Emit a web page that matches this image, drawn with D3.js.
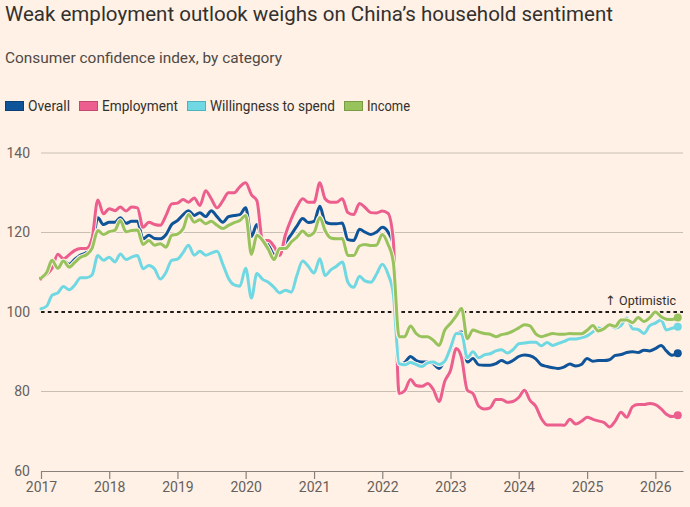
<!DOCTYPE html>
<html>
<head>
<meta charset="utf-8">
<script src="https://cdn.jsdelivr.net/npm/d3@7"></script>
<style>
  html, body { margin: 0; background: #fff1e5; }
  svg { display: block; font-family: Roboto, "Open Sans", sans-serif; }
</style>
</head>
<body>
<div id="chart"></div>
<script>
// monthly index values, Jan 2017 to May 2026
const overall = [
  108.6, 110, 112.5, 111.3, 113, 112, 113.3, 114.3, 115, 116.5,
  123.7, 122, 122.6, 122.6, 123.7, 122.3, 122.8, 122.8, 118.4, 119.3,
  118.5, 118.4, 119.5, 122, 123, 124.5, 125.5, 124.3, 125, 124,
  125.5, 124, 122.6, 124, 124.3, 124.5, 126.2, 119, 122, 118,
  117, 114.5, 115, 117.5, 119.5, 121.6, 123.5, 122.5, 122.8, 126.6,
  122.7, 122.2, 122.2, 122.4, 118.2, 118, 120.8, 120.1, 119.5, 120.1,
  121.3, 120.1, 117, 86.8, 87.3, 88.8, 87.8, 87.4, 87.4, 87,
  85.8, 87.8, 90.4, 94.6, 95, 87.4, 88.3, 86.7, 86.6, 86.6,
  87, 87.8, 87.2, 87.8, 88.8, 89.2, 89, 88.2, 86.7, 86.3,
  86, 85.8, 86.2, 86.9, 86.4, 86.8, 88.3, 87.6, 87.8, 87.8,
  88, 89.1, 89.3, 89.8, 90, 89.8, 90.4, 90.2, 90.8, 91.6,
  90.2, 89.1, 89.6
];
const employment = [
  108.3, 109.5, 111, 114.5, 113.4, 114.4, 115.5, 116, 116, 118.5,
  128.2, 124.7, 126, 125.5, 126.4, 125.4, 126.4, 126.2, 121.3, 122.6,
  122, 121.8, 124.3, 127.2, 127.4, 128.3, 127.6, 128.7, 126.8, 130.5,
  128.5, 126.2, 128, 130, 130, 131.5, 132.5, 129.5, 128, 118,
  118, 116.5, 114.2, 119.5, 123.4, 126.4, 128.5, 127.6, 127.6, 132.5,
  128.5, 127.6, 127.6, 128.5, 125, 124.5, 127.3, 126.3, 125, 124.9,
  125.4, 124.8, 118, 79.5, 80.2, 83, 81.5, 81.3, 82, 80.5,
  77.5, 82.5, 85.3, 90.8, 88.5, 80.3, 79.5, 76.3, 75.6, 75.9,
  78, 78, 77.3, 77.5, 78.5, 80.3, 77.8, 76.3, 73.2, 71.6,
  71.6, 71.6, 71.5, 73, 71.8, 72.5, 73.5, 73, 72.6, 72.2,
  71.1, 72.6, 74.8, 73.5, 76.2, 76.7, 76.7, 77, 76.7, 75.6,
  74.3, 73.7, 74
];
const spending = [
  100.8, 101.5, 104.2, 104.8, 106.4, 105.6, 106.8, 108.6, 108.6, 109.3,
  114.2, 113, 113.8, 112.6, 114.6, 113.2, 113.8, 114.2, 110.9, 111.7,
  110.8, 108.3, 110, 113, 113.3, 115, 116.8, 114.3, 115.3, 114.3,
  114.8, 115.3, 112, 108.5, 106.8, 106.5, 111, 103.5, 109.7, 108.2,
  107.5, 106.2, 104.8, 105.5, 105, 109.2, 112.8, 111.5, 109.8, 113.4,
  109.2, 110.6, 111.5, 112.6, 107.5, 106.2, 109, 107.8, 107.5, 109.5,
  112, 109.5, 104.5, 87, 86.7, 87.3, 86.8, 86.3, 87.2, 87.4,
  86.8, 87.6, 91, 94.6, 94.5, 88.5, 90, 88.5, 89.2, 89.5,
  90.2, 90.5, 89.7, 90.5, 92, 92.2, 92.4, 92.4, 91.5, 92.3,
  91.6, 92.1, 92.6, 93.2, 93.2, 93.5, 94, 95, 96, 95.7,
  96.7, 96, 96.6, 98.5, 95.8, 95.6, 94.6, 96.5, 97.2, 98,
  95.5, 95.9, 96.3
];
const income = [
  108.5, 110, 113, 111, 112.8, 111.3, 112.5, 113.8, 114.4, 116,
  120.5, 119.5, 120.2, 120.6, 123, 120.2, 120.5, 120.6, 117, 118,
  116.8, 117.2, 116.3, 119.3, 119.6, 121, 124.5, 122.6, 123.2, 122.2,
  122.8, 121.8, 121, 121.8, 122.5, 123, 124.3, 114.5, 119.3, 118,
  115.8, 113.2, 116, 116, 117.6, 118.8, 120.4, 119.2, 120, 123.8,
  120.5, 118.6, 118.4, 118.5, 114.2, 114.2, 116.6, 117, 116.7, 116.8,
  119.5, 117, 112.5, 93.8, 93.8, 96.5, 94.6, 93.8, 93.8, 92.9,
  91.6, 95.4, 97.1, 99, 100.9, 93.3, 95.5, 95, 94.6, 94.4,
  93.8, 94.3, 94.6, 95.2, 96, 96.8, 96.5, 94.5, 93.8, 94.2,
  94.6, 94.4, 94.4, 94.6, 94.5, 94.5, 95.4, 96.6, 95.2, 95.8,
  96.8, 96.4, 98, 98, 97.3, 98.6, 97.6, 98.5, 100, 98.8,
  98.2, 98.1, 98.6
];

const categories = ["Overall", "Employment", "Willingness to spend", "Income"];
const seriesValues = [overall, employment, spending, income];
const colours = ["#0f5499", "#eb5e8d", "#70d8e2", "#98c25c"];
const swatchEdges = ["#0b3f75", "#c24a72", "#4fb3bd", "#779c43"];

const yTicks = [60, 80, 100, 120, 140];
const xTickYears = [2017, 2018, 2019, 2020, 2021, 2022, 2023, 2024, 2025, 2026];

const months = d3.timeMonth.range(new Date(2017, 0, 1), new Date(2026, 5, 1));

const fullWidth = 690;
const fullHeight = 507;
const bg = "#fff1e5";
const ink = "#33302e";
const muted = "#66605c";

const svg = d3.select("#chart")
  .append("svg")
  .attr("width", fullWidth)
  .attr("height", fullHeight);

svg.append("rect")
  .attr("width", fullWidth)
  .attr("height", fullHeight)
  .attr("fill", bg);

// squeeze/stretch text to the width seen in the picture
const fit = (sel, target) => {
  const w = sel.node().getComputedTextLength();
  if (Math.abs(w - target) / target > 0.01) {
    sel.attr("textLength", target).attr("lengthAdjust", "spacingAndGlyphs");
  }
  return sel;
};

const title = svg.append("text")
  .attr("x", 5).attr("y", 21)
  .attr("fill", ink)
  .style("font-size", "20px")
  .text("Weak employment outlook weighs on China\u2019s household sentiment");
fit(title, 608);

const subtitle = svg.append("text")
  .attr("x", 5).attr("y", 63)
  .attr("fill", "#4e4945")
  .style("font-size", "15px")
  .text("Consumer confidence index, by category");
fit(subtitle, 277);

// legend
const legendWidths = [42, 76, 125, 43];
let lx = 5;
categories.forEach((name, i) => {
  svg.append("rect")
    .attr("x", lx + 0.5).attr("y", 101.5)
    .attr("width", 18).attr("height", 9)
    .attr("fill", colours[i])
    .attr("stroke", swatchEdges[i])
    .attr("stroke-width", 1);
  const t = svg.append("text")
    .attr("x", lx + 23).attr("y", 111)
    .attr("fill", ink)
    .style("font-size", "14px")
    .text(name);
  fit(t, legendWidths[i]);
  lx += 23 + legendWidths[i] + 9;
});

const x = d3.scaleTime()
  .domain([new Date(2017, 0, 1), new Date(2026, 4, 29)])
  .range([41, 683]);

const y = d3.scaleLinear()
  .domain([60, 140])
  .range([471, 153]);

// gridlines
svg.append("g")
  .selectAll("line")
  .data(yTicks.filter(v => v !== 60 && v !== 100))
  .join("line")
  .attr("x1", x.range()[0]).attr("x2", x.range()[1])
  .attr("y1", d => y(d)).attr("y2", d => y(d))
  .attr("stroke", "#c9beb4")
  .attr("stroke-width", 1);

// y labels
svg.append("g")
  .selectAll("text")
  .data(yTicks)
  .join("text")
  .attr("x", 30)
  .attr("y", d => y(d))
  .attr("dy", "0.35em")
  .attr("text-anchor", "end")
  .attr("fill", muted)
  .style("font-size", "14px")
  .text(d => d);

// x axis
const xAxis = d3.axisBottom(x)
  .tickValues(xTickYears.map(yr => new Date(yr, 0, 1)))
  .tickFormat(d3.timeFormat("%Y"))
  .tickSize(8)
  .tickSizeOuter(0)
  .tickPadding(3);

const gx = svg.append("g")
  .attr("transform", `translate(0, ${y(60)})`)
  .call(xAxis);
gx.select(".domain").attr("stroke", "#8a817a").attr("stroke-width", 1.2);
gx.selectAll(".tick line").attr("stroke", "#8a817a").attr("stroke-width", 1.2);
gx.selectAll(".tick text")
  .attr("fill", muted)
  .style("font-size", "14px")
  .style("font-family", "Roboto, sans-serif");

// optimism threshold
svg.append("line")
  .attr("x1", x.range()[0]).attr("x2", x.range()[1])
  .attr("y1", y(100)).attr("y2", y(100))
  .attr("stroke", "#1f1c1a")
  .attr("stroke-width", 2)
  .attr("stroke-dasharray", "3.6,3.2");

const optimistic = svg.append("text")
  .attr("x", 676).attr("y", 305)
  .attr("text-anchor", "end")
  .attr("fill", ink)
  .style("font-size", "12.5px");
optimistic.append("tspan")
  .style("font-family", "'DejaVu Sans', sans-serif")
  .style("font-size", "13px")
  .text("\u2191");
optimistic.append("tspan")
  .text(" Optimistic");

// lines
const line = d3.line()
  .x((d, i) => x(months[i]))
  .y(d => y(d))
  .curve(d3.curveMonotoneX);

const lines = svg.append("g");
seriesValues.forEach((vals, i) => {
  lines.append("path")
    .datum(vals)
    .attr("fill", "none")
    .attr("stroke", bg)
    .attr("stroke-width", 5)
    .attr("stroke-linejoin", "round")
    .attr("d", line);
  lines.append("path")
    .datum(vals)
    .attr("fill", "none")
    .attr("stroke", colours[i])
    .attr("stroke-width", 3)
    .attr("stroke-linejoin", "round")
    .attr("stroke-linecap", "round")
    .attr("d", line);
});

// end markers
seriesValues.forEach((vals, i) => {
  const last = vals.length - 1;
  svg.append("circle")
    .attr("cx", x(months[last]))
    .attr("cy", y(vals[last]))
    .attr("r", 4)
    .attr("fill", colours[i]);
});
</script>
</body>
</html>
